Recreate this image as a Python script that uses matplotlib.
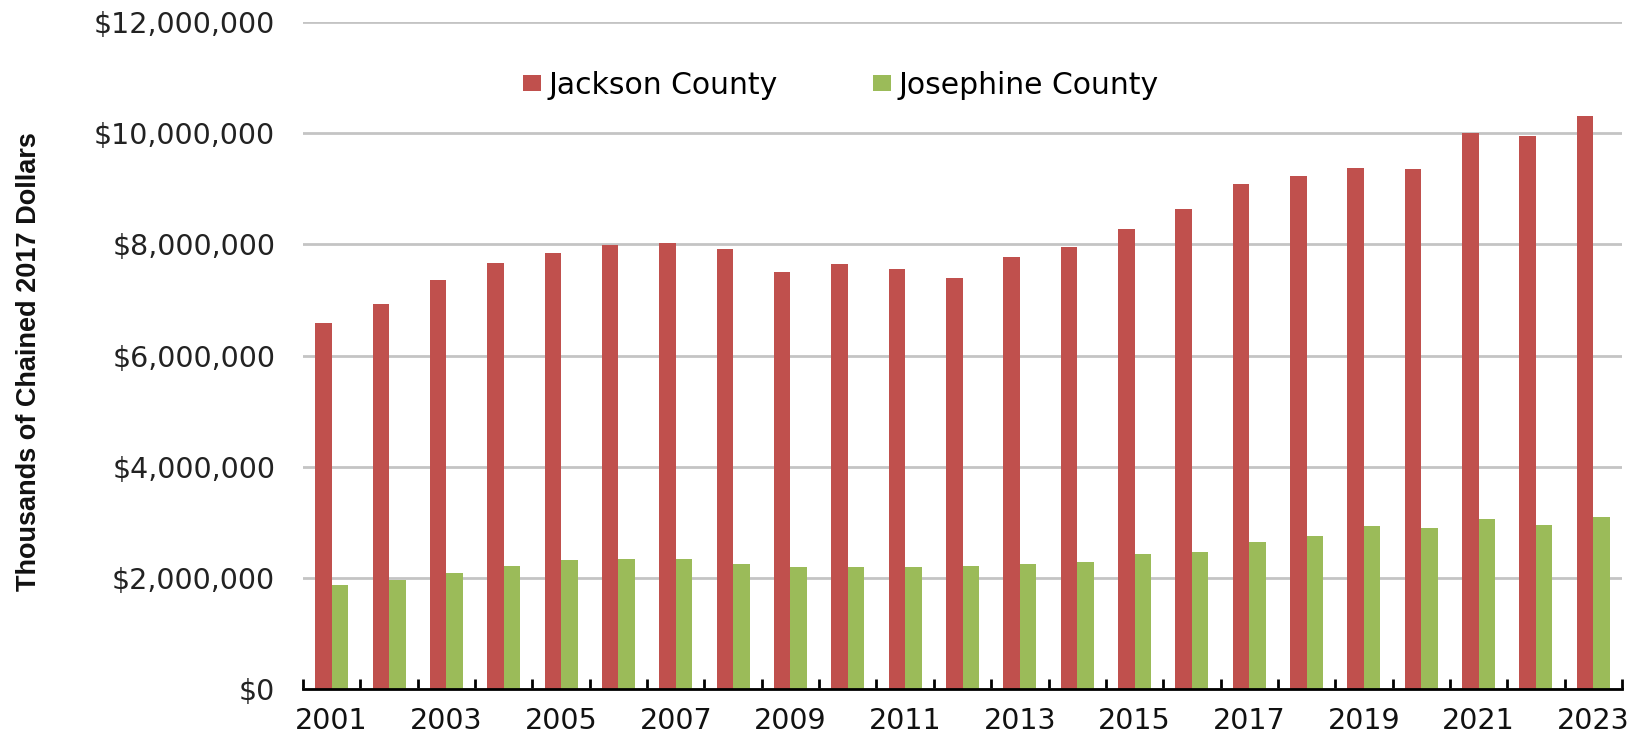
import matplotlib
matplotlib.use("Agg")
import matplotlib.pyplot as plt
import numpy as np
from matplotlib.ticker import FuncFormatter, FixedLocator

years = list(range(2001, 2024))
jackson = [6.58, 6.93, 7.35, 7.67, 7.85, 7.99, 8.03, 7.91, 7.51, 7.65, 7.55, 7.40,
           7.78, 7.95, 8.28, 8.63, 9.08, 9.23, 9.37, 9.36, 10.01, 9.95, 10.30]
josephine = [1.88, 1.97, 2.08, 2.22, 2.32, 2.34, 2.33, 2.24, 2.19, 2.19, 2.19, 2.21,
             2.24, 2.28, 2.42, 2.46, 2.64, 2.76, 2.94, 2.90, 3.06, 2.95, 3.09]
jackson = [v * 1e6 for v in jackson]
josephine = [v * 1e6 for v in josephine]
series_names = ["Jackson County", "Josephine County"]
colors = ["#C0504D", "#9BBB59"]
yticks = [0, 2e6, 4e6, 6e6, 8e6, 10e6, 12e6]

fig = plt.figure(figsize=(16.32, 7.33), dpi=100)
ax = fig.add_axes([303/1632, 1 - 689/733, (1622-303)/1632, (689-22)/733])

x = np.arange(len(years))
w = 0.288
ax.bar(x - w/2, jackson, width=w, color=colors[0], label=series_names[0], zorder=3)
ax.bar(x + w/2, josephine, width=w, color=colors[1], label=series_names[1], zorder=3)

ax.set_xlim(-0.5, len(years) - 0.5)
ax.set_ylim(0, 12e6)
ax.set_yticks(yticks)
ax.yaxis.set_major_formatter(FuncFormatter(lambda v, p: "${:,.0f}".format(v)))
ax.grid(axis="y", color="#C4C4C4", linewidth=2, zorder=0)
ax.set_axisbelow(True)

for s in ["top", "right", "left"]:
    ax.spines[s].set_visible(False)
ax.spines["bottom"].set_color("black")
ax.spines["bottom"].set_linewidth(2)
ax.spines["bottom"].set_zorder(4)

ax.xaxis.set_major_locator(FixedLocator(x[::2]))
ax.set_xticklabels([str(y) for y in years[::2]])
ax.xaxis.set_minor_locator(FixedLocator(np.arange(-0.5, len(years), 1.0)))
ax.tick_params(axis="x", which="major", length=0, pad=13, labelsize=20.5, labelcolor="#111111")
ax.tick_params(axis="x", which="minor", direction="in", length=7, width=2, color="black")
ax.tick_params(axis="y", length=0, pad=20, labelsize=20.5, labelcolor="#222222")

leg = ax.legend(loc="center", bbox_to_anchor=(0.408, 0.9055), ncol=2, frameon=False,
                fontsize=21.5, handlelength=0.6, handleheight=0.47,
                handletextpad=0.25, columnspacing=3.2)

fig.text(29/1632, 1 - 362/733, "Thousands of Chained 2017 Dollars", rotation=90,
         ha="center", va="center", fontsize=19.5, fontweight="bold",
         family="Liberation Sans", color="#111111")

fig.savefig("out.png", dpi=100)
